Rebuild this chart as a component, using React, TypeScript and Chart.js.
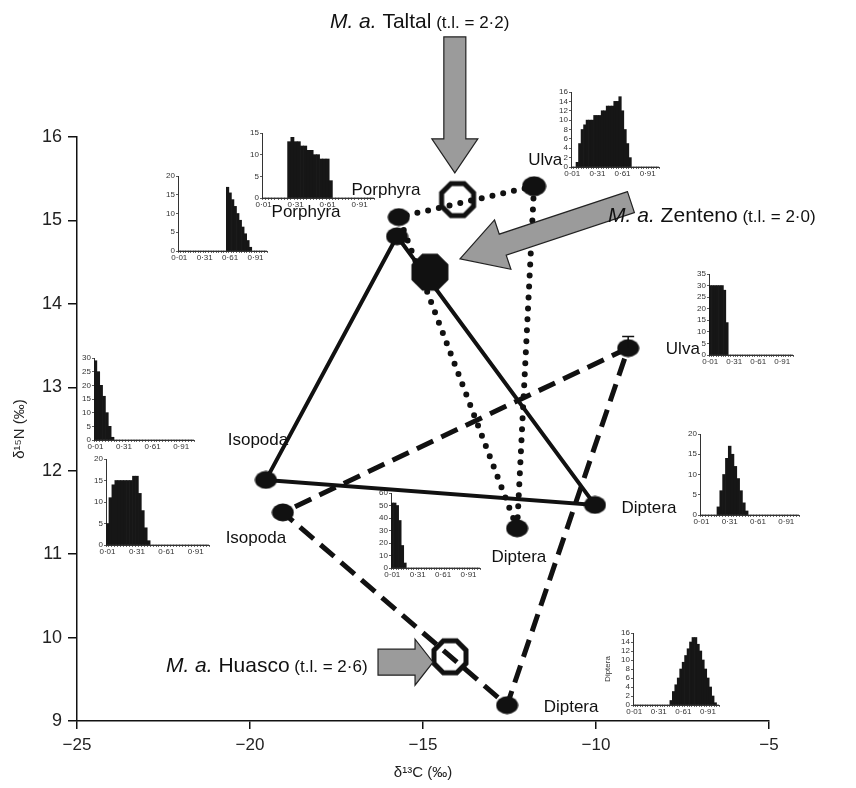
import React, { useEffect, useRef } from 'react';
import { Chart, registerables } from 'chart.js';
Chart.register(...registerables);

// ---------- main axes ----------
const X_TICKS = [-25, -20, -15, -10, -5];
const Y_TICKS = [9, 10, 11, 12, 13, 14, 15, 16];

// ---------- sources (δ13C, δ15N) ----------
// Zenteno (solid): Porphyra, Isopoda, Diptera
const zentenoX = [-15.75, -19.54, -10.03];
const zentenoY = [14.81, 11.89, 11.59];
// Taltal (dotted): Porphyra, Ulva, Diptera
const taltalX = [-15.7, -11.79, -12.28];
const taltalY = [15.04, 15.41, 11.31];
// Huasco (dashed): Ulva, Isopoda, Diptera
const huascoX = [-9.07, -19.05, -12.57];
const huascoY = [13.47, 11.5, 9.19];
const huascoUlvaErr = 0.14;

// ---------- consumers ----------
const consumerNames = ['Taltal', 'Zenteno', 'Huasco'];
const consumerTL = ['2·2', '2·0', '2·6'];
const consumerX = [-14.0, -14.8, -14.22];
const consumerY = [15.25, 14.38, 9.77];
const consumerFilled = [false, true, false];
const consumerLabelX = [-17.69, -9.65, -22.43];
const consumerLabelY = [17.31, 14.98, 9.585];
const arrowTailX = [-14.08, -8.99, -16.3];
const arrowTailY = [17.2, 15.22, 9.705];
const arrowTipX = [-14.08, -13.93, -14.71];
const arrowTipY = [15.57, 14.54, 9.705];
const arrowShaft = [22, 22, 26];
const arrowHead = [46, 52, 46];
const arrowHeadLen = [34, 45, 18];

// ---------- source labels ----------
const sourceLabelText = ['Porphyra', 'Porphyra', 'Ulva', 'Ulva', 'Isopoda', 'Isopoda', 'Diptera', 'Diptera', 'Diptera'];
const sourceLabelX = [-16.07, -18.38, -11.47, -7.49, -19.77, -19.83, -12.23, -8.47, -10.72];
const sourceLabelY = [15.36, 15.10, 15.72, 13.45, 12.37, 11.19, 10.96, 11.55, 9.17];

// ---------- inset histograms (proportion bins) ----------
const binLabels = ['0·01', '0·04', '0·07', '0·10', '0·13', '0·16', '0·19', '0·22', '0·25', '0·28',
  '0·31', '0·34', '0·37', '0·40', '0·43', '0·46', '0·49', '0·52', '0·55', '0·58',
  '0·61', '0·64', '0·67', '0·70', '0·73', '0·76', '0·79', '0·82', '0·85', '0·88',
  '0·91', '0·94', '0·97', '1·00', '1·03'];
const shownBinLabels = ['0·01', '0·31', '0·61', '0·91'];

const histPorphyraTop = [0, 0, 0, 0, 0, 0, 0, 0, 13, 14, 13, 13, 12, 12, 11, 11, 10, 10, 9, 9, 9, 4, 0, 0, 0, 0, 0, 0, 0, 0, 0, 0, 0, 0, 0];
const histPorphyraLeft = [0, 0, 0, 0, 0, 0, 0, 0, 0, 0, 0, 0, 0, 0, 0, 0, 0, 0, 0, 17, 15.5, 13.7, 11.9, 10, 8.2, 6.4, 4.6, 2.8, 1, 0, 0, 0, 0, 0, 0];
const histUlvaTop = [0, 0, 1, 5, 8, 9, 10, 10, 10, 11, 11, 11, 12, 12, 13, 13, 13, 14, 14, 15, 12, 8, 5, 2, 0, 0, 0, 0, 0, 0, 0, 0, 0, 0, 0];
const histUlvaRight = [30, 30, 30, 30, 30, 30, 28, 14, 0, 0, 0, 0, 0, 0, 0, 0, 0, 0, 0, 0, 0, 0, 0, 0, 0, 0, 0, 0, 0, 0, 0, 0, 0, 0, 0];
const histIsopodaUpper = [29, 25, 20, 16, 10, 5, 1, 0, 0, 0, 0, 0, 0, 0, 0, 0, 0, 0, 0, 0, 0, 0, 0, 0, 0, 0, 0, 0, 0, 0, 0, 0, 0, 0, 0];
const histIsopodaLower = [5, 11, 14, 15, 15, 15, 15, 15, 15, 16, 16, 12, 8, 4, 1, 0, 0, 0, 0, 0, 0, 0, 0, 0, 0, 0, 0, 0, 0, 0, 0, 0, 0, 0, 0];
const histDipteraCenter = [52, 52, 50, 38, 18, 4, 0, 0, 0, 0, 0, 0, 0, 0, 0, 0, 0, 0, 0, 0, 0, 0, 0, 0, 0, 0, 0, 0, 0, 0, 0, 0, 0, 0, 0];
const histDipteraRight = [0, 0, 0, 0, 0, 0, 2, 6, 10, 14, 17, 15, 12, 9, 6, 3, 1, 0, 0, 0, 0, 0, 0, 0, 0, 0, 0, 0, 0, 0, 0, 0, 0, 0, 0];
const histDipteraBottom = [0, 0, 0, 0, 0, 0, 0, 0, 0, 0, 0, 0, 0, 0, 0, 1, 3, 4.5, 6, 8, 9.5, 11, 12.5, 14, 15, 15, 13.5, 12, 10, 8, 6, 4, 2, 0.5, 0];

const histMax = [15, 20, 16, 35, 30, 20, 60, 20, 16];
const histStep = [5, 5, 2, 5, 5, 5, 10, 5, 2];
const histSeries = [histPorphyraTop, histPorphyraLeft, histUlvaTop, histUlvaRight, histIsopodaUpper, histIsopodaLower, histDipteraCenter, histDipteraRight, histDipteraBottom];
const histYTitle = ['', '', '', '', '', '', '', '', 'Diptera'];

// layout of insets (pixels): y-axis x, top of value range, zero line, bin width
const insetLayout = [
  { ax: 262, top: 133, zero: 198, bw: 3.2 },
  { ax: 178, top: 176, zero: 251, bw: 2.55 },
  { ax: 571, top: 92, zero: 167, bw: 2.5 },
  { ax: 709, top: 274, zero: 355, bw: 2.4 },
  { ax: 94, top: 358, zero: 440, bw: 2.87 },
  { ax: 106, top: 459, zero: 545, bw: 2.95 },
  { ax: 391, top: 493, zero: 568, bw: 2.53 },
  { ax: 700, top: 434, zero: 515, bw: 2.83 },
  { ax: 633, top: 633, zero: 705, bw: 2.46 },
];

const FONT = '"Liberation Sans", Arial, Helvetica, sans-serif';

function fmtMinus(v: number) {
  return v < 0 ? '\u2212' + Math.abs(v) : String(v);
}

function makeEllipse(w: number, h: number) {
  const c = document.createElement('canvas');
  c.width = w; c.height = h;
  const g = c.getContext('2d')!;
  g.fillStyle = '#111';
  g.beginPath();
  g.ellipse(w / 2, h / 2, w / 2 - 0.5, h / 2 - 0.5, 0, 0, Math.PI * 2);
  g.fill();
  return c;
}

function makeOctagon(filled: boolean) {
  const size = 44;
  const c = document.createElement('canvas');
  c.width = size; c.height = size;
  const g = c.getContext('2d')!;
  const apothem = filled ? 18.5 : 16;
  const R = apothem / Math.cos(Math.PI / 8);
  g.beginPath();
  for (let k = 0; k < 8; k++) {
    const a = Math.PI / 8 + k * Math.PI / 4;
    const px = size / 2 + R * Math.cos(a);
    const py = size / 2 + R * Math.sin(a);
    if (k === 0) g.moveTo(px, py); else g.lineTo(px, py);
  }
  g.closePath();
  if (filled) {
    g.fillStyle = '#111';
    g.fill();
  } else {
    g.strokeStyle = '#111';
    g.lineWidth = 5;
    g.lineJoin = 'miter';
    g.stroke();
  }
  return c;
}

function Inset({ idx }: { idx: number }) {
  const ref = useRef<HTMLCanvasElement>(null);
  const L = insetLayout[idx];
  const yW = histYTitle[idx] ? 30 : 22;
  const padTop = 8;
  const padRight = 4;
  const xH = 12;
  const n = binLabels.length;
  const width = Math.round(yW + n * L.bw + padRight);
  const height = Math.round(padTop + (L.zero - L.top) + xH);
  const left = L.ax - yW;
  const top = L.top - padTop;
  useEffect(() => {
    if (!ref.current) return;
    const chart = new Chart(ref.current, {
      type: 'bar',
      data: {
        labels: binLabels,
        datasets: [{
          data: histSeries[idx],
          backgroundColor: '#161616',
          borderWidth: 0,
          barPercentage: 1,
          categoryPercentage: 1,
        }],
      },
      options: {
        animation: false,
        responsive: false,
        events: [],
        layout: { padding: { top: padTop, right: padRight, left: 0, bottom: 0 } },
        plugins: { legend: { display: false }, tooltip: { enabled: false } },
        scales: {
          x: {
            afterFit: (s: any) => { s.height = xH; },
            grid: { drawOnChartArea: false, drawTicks: true, tickLength: 2, color: '#444', lineWidth: 0.8 },
            border: { color: '#333', width: 1 },
            ticks: {
              autoSkip: false, maxRotation: 0, minRotation: 0, padding: 0,
              color: '#333', font: { family: FONT, size: 8 },
              callback: (_v: any, i: number) => (shownBinLabels.includes(binLabels[i]) ? binLabels[i] : ''),
            },
          },
          y: {
            min: 0, max: histMax[idx],
            afterFit: (s: any) => { s.width = yW; },
            grid: { drawOnChartArea: false, drawTicks: true, tickLength: 2, color: '#333', lineWidth: 0.8 },
            border: { color: '#333', width: 1 },
            ticks: { stepSize: histStep[idx], autoSkip: false, padding: 1, color: '#333', font: { family: FONT, size: 8 } },
            title: histYTitle[idx] ? { display: true, text: histYTitle[idx], color: '#333', font: { family: FONT, size: 8 }, padding: 0 } : { display: false },
          },
        },
      },
    } as any);
    return () => chart.destroy();
  }, [idx]);
  return (
    <canvas ref={ref} width={width} height={height}
      style={{ position: 'absolute', left, top, width, height, zIndex: 1 }} />
  );
}

function MainChart() {
  const ref = useRef<HTMLCanvasElement>(null);
  useEffect(() => {
    if (!ref.current) return;
    const ellipse = makeEllipse(23, 19);
    const bigEllipse = makeEllipse(25, 21);
    const octOpen = makeOctagon(false);
    const octFilled = makeOctagon(true);

    const pts = (xs: number[], ys: number[], order: number[]) => order.map(i => ({ x: xs[i], y: ys[i] }));

    const overlay = {
      id: 'overlay',
      afterDraw(chart: any) {
        const ctx = chart.ctx;
        const xs = chart.scales.x, ys = chart.scales.y;
        const px = (v: number) => xs.getPixelForValue(v);
        const py = (v: number) => ys.getPixelForValue(v);
        ctx.save();
        // error bar on Huasco Ulva
        {
          const x = px(huascoX[0]);
          const y0 = py(huascoY[0]);
          const y1 = py(huascoY[0] + huascoUlvaErr);
          ctx.strokeStyle = '#111';
          ctx.lineWidth = 1.5;
          ctx.beginPath();
          ctx.moveTo(x, y0); ctx.lineTo(x, y1);
          ctx.moveTo(x - 6, y1); ctx.lineTo(x + 6, y1);
          ctx.stroke();
        }
        // source labels
        ctx.fillStyle = '#111';
        ctx.font = `17px ${FONT}`;
        ctx.textAlign = 'center';
        ctx.textBaseline = 'middle';
        sourceLabelText.forEach((t, i) => ctx.fillText(t, px(sourceLabelX[i]), py(sourceLabelY[i])));
        // arrows
        for (let i = 0; i < 3; i++) {
          const tx = px(arrowTailX[i]), ty = py(arrowTailY[i]);
          const hx = px(arrowTipX[i]), hy = py(arrowTipY[i]);
          const dx = hx - tx, dy = hy - ty;
          const len = Math.hypot(dx, dy);
          const ux = dx / len, uy = dy / len;
          const nx = -uy, ny = ux;
          const bx = hx - ux * arrowHeadLen[i], by = hy - uy * arrowHeadLen[i];
          const sw = arrowShaft[i] / 2, hw = arrowHead[i] / 2;
          ctx.beginPath();
          ctx.moveTo(tx + nx * sw, ty + ny * sw);
          ctx.lineTo(bx + nx * sw, by + ny * sw);
          ctx.lineTo(bx + nx * hw, by + ny * hw);
          ctx.lineTo(hx, hy);
          ctx.lineTo(bx - nx * hw, by - ny * hw);
          ctx.lineTo(bx - nx * sw, by - ny * sw);
          ctx.lineTo(tx - nx * sw, ty - ny * sw);
          ctx.closePath();
          ctx.fillStyle = '#9b9b9b';
          ctx.fill();
          ctx.strokeStyle = '#222';
          ctx.lineWidth = 1.2;
          ctx.lineJoin = 'miter';
          ctx.stroke();
        }
        // consumer titles
        ctx.textAlign = 'left';
        ctx.textBaseline = 'alphabetic';
        ctx.fillStyle = '#111';
        for (let i = 0; i < 3; i++) {
          let x = px(consumerLabelX[i]);
          const y = py(consumerLabelY[i]);
          ctx.font = `italic 21px ${FONT}`;
          ctx.fillText('M. a.', x, y);
          x += ctx.measureText('M. a.').width;
          ctx.font = `21px ${FONT}`;
          const nm = ' ' + consumerNames[i];
          ctx.fillText(nm, x, y);
          x += ctx.measureText(nm).width;
          ctx.font = `17px ${FONT}`;
          ctx.fillText(' (t.l. = ' + consumerTL[i] + ')', x, y);
        }
        ctx.restore();
      },
    };

    const chart = new Chart(ref.current, {
      type: 'scatter',
      data: {
        datasets: [
          {
            data: consumerX.map((x, i) => ({ x, y: consumerY[i] })),
            pointStyle: consumerFilled.map(f => (f ? octFilled : octOpen)),
            showLine: false,
            clip: false,
          },
          {
            data: [
              ...zentenoX.map((x, i) => ({ x, y: zentenoY[i] })),
              ...taltalX.map((x, i) => ({ x, y: taltalY[i] })),
              ...huascoX.map((x, i) => ({ x, y: huascoY[i] })),
            ],
            pointStyle: [ellipse, ellipse, ellipse, ellipse, bigEllipse, ellipse, ellipse, ellipse, ellipse],
            showLine: false,
            clip: false,
          },
          {
            data: pts(zentenoX, zentenoY, [0, 1, 2, 0]),
            showLine: true,
            borderColor: '#111',
            borderWidth: 4,
            borderJoinStyle: 'miter',
            pointRadius: 0,
            tension: 0,
            clip: false,
          },
          {
            data: pts(taltalX, taltalY, [2, 0, 1, 2]),
            showLine: true,
            borderColor: '#111',
            borderWidth: 6,
            borderDash: [0, 11],
            borderCapStyle: 'round',
            pointRadius: 0,
            tension: 0,
            clip: false,
          },
          {
            data: pts(huascoX, huascoY, [0, 1, 2, 0]),
            showLine: true,
            borderColor: '#111',
            borderWidth: 5,
            borderDash: [18, 9],
            pointRadius: 0,
            tension: 0,
            clip: false,
          },
        ],
      },
      options: {
        animation: false,
        responsive: false,
        events: [],
        layout: { padding: { top: 137, right: 87, left: 0, bottom: 0 } },
        plugins: { legend: { display: false }, tooltip: { enabled: false } },
        scales: {
          x: {
            type: 'linear', min: -25, max: -5,
            afterBuildTicks: (s: any) => { s.ticks = X_TICKS.map(v => ({ value: v })); },
            afterFit: (s: any) => { s.height = 67; },
            grid: { drawOnChartArea: false, drawTicks: true, tickLength: 8, color: '#111', lineWidth: 1.5 },
            border: { color: '#111', width: 1.5 },
            ticks: { callback: (v: any) => fmtMinus(Number(v)), color: '#222', padding: 6, maxRotation: 0, font: { family: FONT, size: 17 } },
            title: { display: true, text: 'δ¹³C (‰)', color: '#222', font: { family: FONT, size: 15 }, padding: { top: 2, bottom: 6 } },
          },
          y: {
            type: 'linear', min: 9, max: 16,
            afterBuildTicks: (s: any) => { s.ticks = Y_TICKS.map(v => ({ value: v })); },
            afterFit: (s: any) => { s.width = 77; },
            grid: { drawOnChartArea: false, drawTicks: true, tickLength: 9, color: '#111', lineWidth: 1.5 },
            border: { color: '#111', width: 1.5 },
            ticks: { callback: (v: any) => String(v), color: '#222', padding: 6, font: { family: FONT, size: 18 } },
            title: { display: true, text: 'δ¹⁵N (‰)', color: '#222', font: { family: FONT, size: 15 }, padding: { top: 11, bottom: 0 } },
          },
        },
      },
      plugins: [overlay],
    } as any);
    return () => chart.destroy();
  }, []);
  return (
    <canvas ref={ref} width={856} height={788}
      style={{ position: 'absolute', left: 0, top: 0, width: 856, height: 788, zIndex: 2 }} />
  );
}

export default function App() {
  return (
    <div style={{ position: 'fixed', left: 0, top: 0, width: 856, height: 788, background: '#fff', overflow: 'hidden' }}>
      {insetLayout.map((_, i) => <Inset key={i} idx={i} />)}
      <MainChart />
    </div>
  );
}
